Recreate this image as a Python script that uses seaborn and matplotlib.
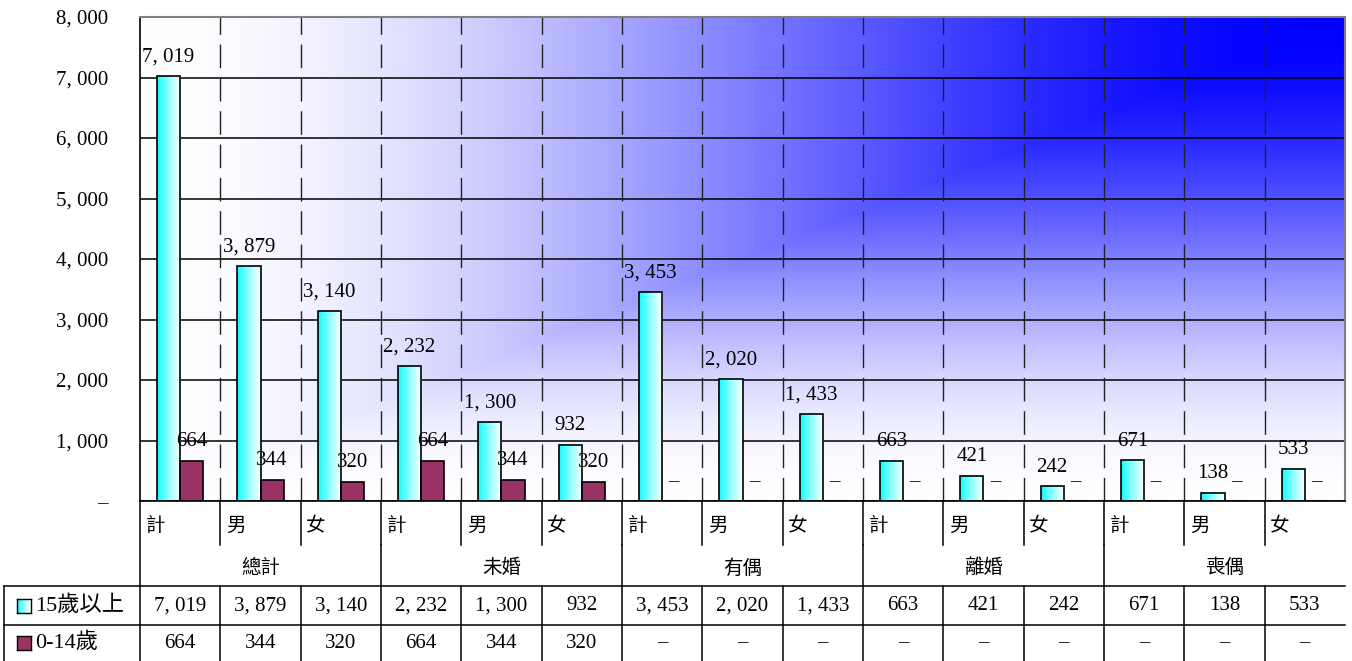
import numpy as np
import pandas as pd
import matplotlib
matplotlib.use("Agg")
import matplotlib.pyplot as plt
import matplotlib.transforms as mtransforms
from matplotlib.lines import Line2D
import seaborn as sns

# data
groups = ["總計", "未婚", "有偶", "離婚", "喪偶"]
subs = ["計", "男", "女"]
series = ["15歲以上", "0-14歲"]
age15 = [7019, 3879, 3140, 2232, 1300, 932, 3453, 2020, 1433, 663, 421, 242, 671, 138, 533]
age0_14 = [664, 344, 320, 664, 344, 320, 0, 0, 0, 0, 0, 0, 0, 0, 0]
yticks = [0, 1000, 2000, 3000, 4000, 5000, 6000, 7000, 8000]

cats = [g + s for g in groups for s in subs]
df = pd.DataFrame({
    "cat": cats * 2,
    "series": [series[0]] * len(cats) + [series[1]] * len(cats),
    "value": age15 + age0_14,
})


def fmt(v):
    if v == 0:
        return "–"
    return f"{v:,}".replace(",", ", ")


W, H = 1352, 661
fig = plt.figure(figsize=(W / 100, H / 100), dpi=100)
plt.rcParams["font.family"] = ["Liberation Serif", "Noto Sans CJK TC"]

ax = fig.add_axes([140 / W, 1 - 501 / H, 1205 / W, 484 / H])
sns.barplot(data=df, x="cat", y="value", hue="series", order=cats, hue_order=series,
            palette=["#00FFFF", "#993366"], saturation=1, width=0.58,
            edgecolor="black", linewidth=1.2, legend=False, ax=ax)

ax.set_xlim(-0.5, len(cats) - 0.5)
ax.set_ylim(0, 8000)

# background: white (bottom-left) to blue (top-right), corner gradient
u = np.linspace(0, 1, 600)[None, :]
v = np.linspace(0, 1, 300)[:, None]
m = np.minimum(u, v)
t = m * m * (3 - 2 * m)
bg = np.dstack([1 - t, 1 - t, np.ones_like(t)])
ax.imshow(bg, extent=[-0.5, len(cats) - 0.5, 0, 8000], origin="lower",
          aspect="auto", zorder=0.1, interpolation="bilinear")

# cyan bars get a cyan -> white gradient
grad_u = np.linspace(0, 1, 64) ** 0.8
grad = np.zeros((2, 64, 3))
grad[..., 0] = grad_u
grad[..., 1] = 1
grad[..., 2] = 1
for bar in ax.containers[0]:
    bar.set_facecolor("none")
    x0, w, h = bar.get_x(), bar.get_width(), bar.get_height()
    ax.imshow(grad, extent=[x0, x0 + w, 0, h], origin="lower", aspect="auto",
              zorder=0.9, interpolation="bilinear")
ax.set_xlim(-0.5, len(cats) - 0.5)
ax.set_ylim(0, 8000)

# grid
ax.set_axisbelow(True)
ax.yaxis.grid(True, color="black", linewidth=1.1, zorder=0.5)
ax.xaxis.grid(False)
for i in range(len(cats) - 1):
    ax.axvline(i + 0.5, color="#222222", linewidth=1.0, linestyle=(0, (17, 7)), zorder=0.6)

ax.set_yticks(yticks)
ax.set_yticklabels([fmt(y) for y in yticks], fontsize=15)
ax.tick_params(axis="y", length=0, pad=23)
ax.set_xticks([])
ax.set_xlabel("")
ax.set_ylabel("")
for side in ["top", "right"]:
    ax.spines[side].set_color("#808080")
    ax.spines[side].set_linewidth(1.5)
for side in ["left", "bottom"]:
    ax.spines[side].set_color("black")
    ax.spines[side].set_linewidth(1.2)

# data labels
for cont in ax.containers:
    for bar in cont:
        h = bar.get_height()
        ax.annotate(fmt(int(round(h))), (bar.get_x() + bar.get_width() / 2, h),
                    xytext=(0, 7), textcoords="offset points",
                    ha="center", va="bottom", fontsize=15, zorder=5)

# data table under the chart
blend = mtransforms.blended_transform_factory(ax.transData, fig.transFigure)


def fy(py):
    return 1 - py / H


def vline(x, y0, y1, trans=blend):
    fig.add_artist(Line2D([x, x], [fy(y0), fy(y1)], color="black", linewidth=1.1, transform=trans))


def hline(y, x0=4, x1=1345):
    fig.add_artist(Line2D([x0 / W, x1 / W], [fy(y), fy(y)], color="black", linewidth=1.1,
                          transform=fig.transFigure))


vline(-0.5, 501, 661)
for i in range(len(cats) - 1):
    b = i + 0.5
    vline(b, 501, 545)
    vline(b, 586, 661)
    if (i + 1) % 3 == 0:
        vline(b, 545, 586)
hline(586)
hline(625)
fig.add_artist(Line2D([4 / W, 4 / W], [fy(586), fy(661)], color="black", linewidth=1.1,
                      transform=fig.transFigure))

for i, c in enumerate(cats):
    fig.text(i - 0.5 + 0.07, fy(526), subs[i % 3], transform=blend, ha="left", va="center", fontsize=14)
    fig.text(i, fy(606), fmt(age15[i]), transform=blend, ha="center", va="center", fontsize=15)
    fig.text(i, fy(643), fmt(age0_14[i]), transform=blend, ha="center", va="center", fontsize=15)
for g, name in enumerate(groups):
    fig.text(3 * g + 1, fy(568), name, transform=blend, ha="center", va="center", fontsize=14)

# legend keys inside the table
key1 = fig.add_axes([17 / W, 1 - 613 / H, 14 / W, 14 / H])
key1.imshow(grad, aspect="auto", interpolation="bilinear")
key2 = fig.add_axes([17 / W, 1 - 650 / H, 14 / W, 14 / H])
key2.set_facecolor("#993366")
for k in (key1, key2):
    k.set_xticks([])
    k.set_yticks([])
    for s in k.spines.values():
        s.set_color("black")
        s.set_linewidth(1.0)
fig.text(35 / W, fy(606), series[0], ha="left", va="center", fontsize=16)
fig.text(35 / W, fy(643), series[1], ha="left", va="center", fontsize=16)

fig.savefig("out.png", dpi=100)
